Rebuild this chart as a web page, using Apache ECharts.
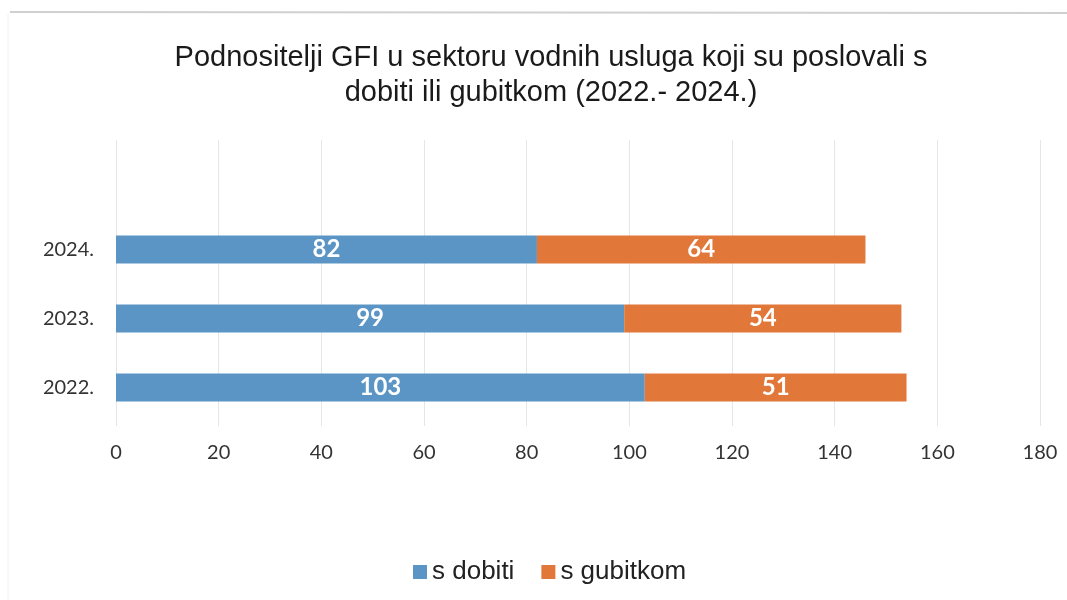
<!DOCTYPE html>
<html>
<head>
<meta charset="utf-8">
<script src="https://cdn.jsdelivr.net/npm/echarts@6/dist/echarts.min.js"></script>
<style>html,body{margin:0;padding:0;background:#fff;}#c{width:1067px;height:600px;}</style>
</head>
<body>
<div id="c"></div>
<script>
const categories = ['2022.', '2023.', '2024.'];
const sDobiti = [103, 99, 82];
const sGubitkom = [51, 54, 64];
const seriesNames = ['s dobiti', 's gubitkom'];
const xTicks = [0, 20, 40, 60, 80, 100, 120, 140, 160, 180];

const chart = echarts.init(document.getElementById('c'));
const labelStyle = {
  show: true, position: 'inside', color: '#fff',
  fontFamily: 'Lato, "Open Sans", sans-serif', fontWeight: 'bold', fontSize: 24
};
chart.setOption({
  backgroundColor: '#fff',
  animation: false,
  graphic: [
    { type: 'line', shape: { x1: 10, y1: 12, x2: 1067, y2: 13 }, style: { stroke: '#d0d0d0', lineWidth: 2 } },
    { type: 'line', shape: { x1: 8, y1: 14, x2: 8, y2: 600 }, style: { stroke: '#f0f0f0', lineWidth: 1 } }
  ],
  title: {
    text: 'Podnositelji GFI u sektoru vodnih usluga koji su poslovali s\ndobiti ili gubitkom (2022.- 2024.)',
    left: 546, top: 35, textAlign: 'center',
    textStyle: { fontFamily: '"Liberation Sans", Arial, sans-serif', fontSize: 29, fontWeight: 'normal', color: '#1a1a1a', lineHeight: 35 }
  },
  legend: {
    data: seriesNames,
    left: 408, top: 554,
    itemWidth: 14, itemHeight: 14, itemGap: 27,
    icon: 'rect',
    textStyle: { fontFamily: '"Liberation Sans", Arial, sans-serif', fontSize: 26, color: '#222', padding: [0, 0, 0, 0] }
  },
  grid: [
    { left: 116, right: 27, top: 215, height: 207 },
    { left: 116, right: 27, top: 140, bottom: 174 }
  ],
  xAxis: [
    { gridIndex: 0, type: 'value', min: 0, max: 180, interval: 20,
      axisLabel: { show: false }, axisLine: { show: false }, axisTick: { show: false }, splitLine: { show: false } },
    { gridIndex: 1, type: 'value', min: 0, max: 180, interval: 20,
      axisLine: { show: false }, axisTick: { show: false },
      splitLine: { show: true, lineStyle: { color: '#e6e6e6', width: 1 } },
      axisLabel: { margin: 17, fontFamily: 'Lato, "Open Sans", sans-serif', fontSize: 20, color: '#333',
        formatter: v => xTicks.includes(v) ? String(v) : '' } }
  ],
  yAxis: [
    { gridIndex: 0, type: 'category', data: categories,
      axisLine: { show: false }, axisTick: { show: false },
      axisLabel: { margin: 22, fontFamily: 'Lato, "Open Sans", sans-serif', fontSize: 20, color: '#333' } },
    { gridIndex: 1, type: 'value', show: false }
  ],
  series: [
    { name: seriesNames[0], type: 'bar', stack: 't', xAxisIndex: 0, yAxisIndex: 0, data: sDobiti,
      barWidth: 28, itemStyle: { color: '#5a95c6' }, label: labelStyle },
    { name: seriesNames[1], type: 'bar', stack: 't', xAxisIndex: 0, yAxisIndex: 0, data: sGubitkom,
      barWidth: 28, itemStyle: { color: '#e2773a' }, label: labelStyle }
  ]
});
</script>
</body>
</html>
